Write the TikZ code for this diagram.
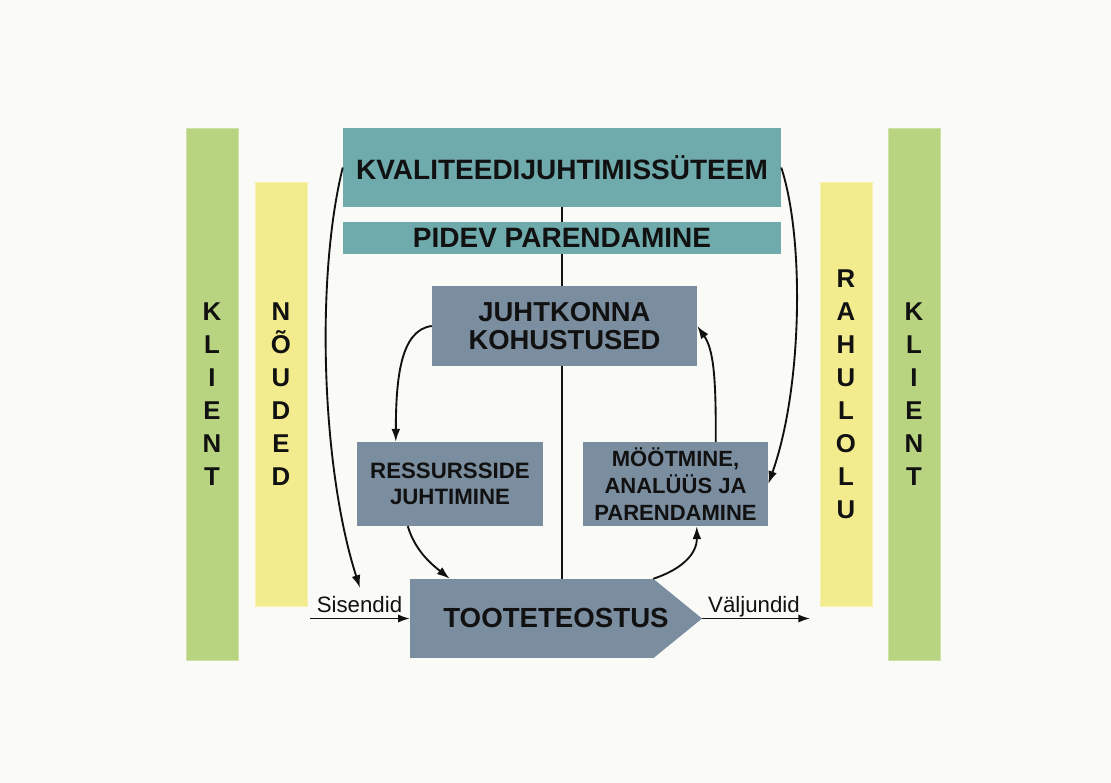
\documentclass[tikz,border=0pt]{standalone}
\usepackage{fontspec}
\setmainfont{Liberation Sans}
\usetikzlibrary{arrows.meta,calc}
\definecolor{bg}{RGB}{250,250,246}
\definecolor{kgreen}{RGB}{185,212,128}
\definecolor{kyellow}{RGB}{243,236,142}
\definecolor{kteal}{RGB}{111,170,173}
\definecolor{kslate}{RGB}{123,142,160}
\definecolor{ink}{RGB}{17,17,17}
\begin{document}
\begin{tikzpicture}[x=0.03cm,y=-0.03cm,
  bar/.style={inner sep=0pt, minimum width=1.56cm, align=center, text=ink,
    font=\bfseries\fontsize{22}{28.2}\selectfont},
  greenbar/.style={bar, fill=kgreen, draw=kgreen!70!white, line width=0.8pt, minimum height=15.96cm},
  yellowbar/.style={bar, fill=kyellow, draw=kyellow!70!white, line width=0.8pt, minimum height=12.72cm},
  tealbox/.style={inner sep=0pt, fill=kteal, align=center, text=ink,
    font=\bfseries\fontsize{23.9}{28}\selectfont, minimum width=13.14cm},
  slatebox/.style={inner sep=0pt, fill=kslate, align=center, text=ink},
  conn/.style={draw=ink, line width=1.6pt, -{Latex[length=11pt,width=7.5pt]}},
  flow/.style={draw=ink, line width=1.4pt, -{Latex[length=10pt,width=7pt]}},
  axis/.style={draw=ink, line width=1.3pt},
  lbl/.style={inner sep=0pt, text=ink, font=\fontsize{19}{22}\selectfont}
]
\fill[bg] (0,0) rectangle (1111,783);
\useasboundingbox (0,0) rectangle (1111,783);

% side bars
\node[greenbar] (klL) at (212,394) {K\\L\\I\\E\\N\\T};
\node[yellowbar] (nou) at (281,394) {N\\Õ\\U\\D\\E\\D};
\node[yellowbar] (rah) at (846,394) {R\\A\\H\\U\\L\\O\\L\\U};
\node[greenbar] (klR) at (914,394) {K\\L\\I\\E\\N\\T};

% central boxes
\node[tealbox, minimum height=2.37cm] (kval) at (562,167.5) {KVALITEEDIJUHTIMISSÜTEEM};
\node[tealbox, minimum height=0.96cm] (pidev) at (562,238) {PIDEV PARENDAMINE};
\node[slatebox, minimum width=7.95cm, minimum height=2.4cm,
      font=\bfseries\fontsize{23.4}{23.9}\selectfont] (juht) at (564.5,326) {JUHTKONNA\\KOHUSTUSED};
\node[slatebox, minimum width=5.58cm, minimum height=2.52cm,
      font=\bfseries\fontsize{19}{22.4}\selectfont] (ress) at (450,484) {RESSURSSIDE\\JUHTIMINE};
\node[slatebox, minimum width=5.55cm, minimum height=2.52cm,
      font=\bfseries\fontsize{18.8}{23}\selectfont] (meas) at (675.5,484) {MÖÖTMINE,\\ANALÜÜS JA\\PARENDAMINE};

% product realisation (arrow-shaped)
\node[inner sep=0pt, fill=kslate, minimum width=7.29cm, minimum height=2.37cm] (toote) at (531.5,618.5) {};
\coordinate (tip) at (702,618.5);
\fill[kslate] (toote.north east) -- (tip) -- (toote.south east) -- cycle;
\node[inner sep=0pt, text=ink, font=\bfseries\fontsize{23.6}{28}\selectfont, anchor=base] (tootelbl) at (556,627) {TOOTETEOSTUS};

% central axis
\draw[axis] (kval.south) -- (pidev.north);
\draw[axis] (pidev.south) -- (pidev.south |- juht.north);
\draw[axis] (pidev.south |- juht.south) -- (pidev.south |- toote.north);

% inputs / outputs
\coordinate (sin0) at (310,618.5);
\coordinate (vout) at (810,618.5);
\draw[flow] (sin0) -- (toote.west);
\draw[flow] (tip) -- (vout);
\node[lbl, anchor=base] (sislbl) at (359.5,612) {Sisendid};
\node[lbl, anchor=base] (vallbl) at (754,612) {Väljundid};

% curved connectors
\coordinate (sisin) at (360,588);
\draw[conn] (kval.west) .. controls (315,280) and (322,470) .. (sisin);
\draw[conn] (kval.east) .. controls (805,240) and (802,390) .. (meas.east);
\draw[conn] (juht.west) .. controls (400,330) and (396,380) .. ($(ress.north west)+(39,0)$);
\draw[conn] ($(meas.north west)+(133,0)$) .. controls (716,380) and (714,350) .. (juht.east);
\draw[conn] ($(ress.south west)+(51,0)$) .. controls (415,550) and (430,563) .. ($(toote.north west)+(40,0)$);
\draw[conn] (toote.north east) .. controls (680,570) and (697,555) .. ($(meas.south west)+(114,0)$);
\end{tikzpicture}
\end{document}
